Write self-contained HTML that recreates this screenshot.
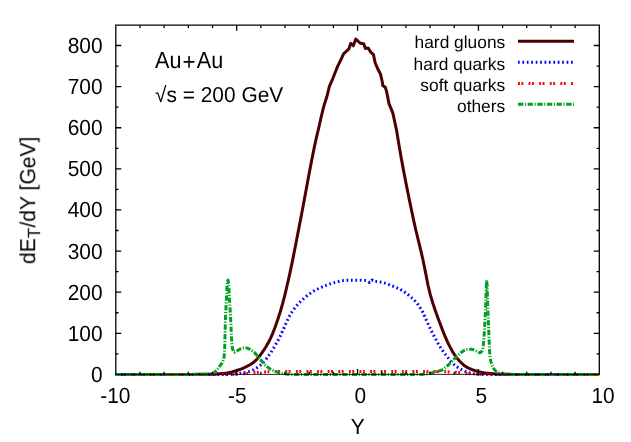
<!DOCTYPE html>
<html><head><meta charset="utf-8"><title>dET/dY vs Y</title><style>
html,body{margin:0;padding:0;background:#fff;}
svg{display:block;font-family:"Liberation Sans",sans-serif;}
</style></head><body>
<svg width="631" height="442" viewBox="0 0 631 442">
<rect width="631" height="442" fill="#fff"/>
<g fill="#000" opacity="0.999" text-rendering="geometricPrecision"><text transform="translate(102.60,381.90) scale(1,1.050)" font-size="20.90" text-anchor="end">0</text><text transform="translate(102.60,340.79) scale(1,1.050)" font-size="20.90" text-anchor="end">100</text><text transform="translate(102.60,299.68) scale(1,1.050)" font-size="20.90" text-anchor="end">200</text><text transform="translate(102.60,258.57) scale(1,1.050)" font-size="20.90" text-anchor="end">300</text><text transform="translate(102.60,217.46) scale(1,1.050)" font-size="20.90" text-anchor="end">400</text><text transform="translate(102.60,176.35) scale(1,1.050)" font-size="20.90" text-anchor="end">500</text><text transform="translate(102.60,135.24) scale(1,1.050)" font-size="20.90" text-anchor="end">600</text><text transform="translate(102.60,94.13) scale(1,1.050)" font-size="20.90" text-anchor="end">700</text><text transform="translate(102.60,53.02) scale(1,1.050)" font-size="20.90" text-anchor="end">800</text><text transform="translate(115.30,402.70) scale(1,1.050)" font-size="20.90" text-anchor="middle">-10</text><text transform="translate(237.20,402.70) scale(1,1.050)" font-size="20.90" text-anchor="middle">-5</text><text transform="translate(360.20,402.70) scale(1,1.050)" font-size="20.90" text-anchor="middle">0</text><text transform="translate(481.30,402.70) scale(1,1.050)" font-size="20.90" text-anchor="middle">5</text><text transform="translate(603.00,402.70) scale(1,1.050)" font-size="20.90" text-anchor="middle">10</text><text transform="translate(357.60,433.90) scale(1,1.050)" font-size="20.90" text-anchor="middle">Y</text><text transform="translate(34.7,200.3) rotate(-90) scale(1,1.030)" font-size="21.10" text-anchor="middle">dE<tspan font-size="17.3" dy="5">T</tspan><tspan dy="-5">/dY [GeV]</tspan></text><text transform="translate(155.00,67.70) scale(1,1.080)" font-size="21.60" text-anchor="start">Au<tspan dx="1.2" dy="2.3" font-size="22.5">+</tspan><tspan dx="1.0" dy="-2.3">Au</tspan></text><text transform="translate(155.00,101.80) scale(1,1.030)" font-size="20.90" text-anchor="start">√s = 200 GeV</text><text transform="translate(505.20,48.40) scale(1,1.000)" font-size="17.35" text-anchor="end">hard gluons</text><text transform="translate(505.20,69.50) scale(1,1.000)" font-size="17.35" text-anchor="end">hard quarks</text><text transform="translate(505.20,90.60) scale(1,1.000)" font-size="17.35" text-anchor="end">soft quarks</text><text transform="translate(505.20,111.70) scale(1,1.000)" font-size="17.35" text-anchor="end">others</text></g>
<g fill="none" stroke-linejoin="round">
<path d="M115.80,374.40 L118.22,374.40 L120.63,374.40 L123.05,374.40 L125.47,374.40 L127.89,374.40 L130.30,374.40 L132.72,374.40 L135.14,374.40 L137.56,374.40 L139.97,374.40 L142.39,374.40 L144.81,374.40 L147.23,374.40 L149.64,374.40 L152.06,374.40 L154.48,374.40 L156.90,374.40 L159.31,374.40 L161.73,374.40 L164.15,374.40 L166.57,374.40 L168.98,374.40 L171.40,374.40 L173.82,374.40 L176.24,374.40 L178.65,374.40 L181.07,374.40 L183.49,374.40 L185.91,374.40 L188.32,374.40 L190.74,374.40 L193.16,374.39 L195.58,374.37 L197.99,374.35 L200.41,374.33 L202.83,374.30 L205.25,374.27 L207.66,374.24 L210.08,374.18 L212.50,374.09 L214.92,373.97 L217.33,373.82 L219.75,373.64 L222.17,373.44 L224.59,373.21 L227.00,372.90 L229.42,372.44 L231.84,371.85 L234.26,371.20 L236.67,370.51 L239.09,369.73 L241.51,368.84 L243.93,367.83 L246.34,366.71 L248.76,365.45 L251.18,363.99 L253.60,362.29 L256.01,360.18 L258.43,357.46 L260.85,354.32 L263.27,350.95 L265.68,347.26 L268.10,343.10 L270.52,338.40 L272.94,332.80 L275.35,326.41 L277.77,319.53 L280.19,312.01 L282.61,303.69 L285.02,294.29 L287.44,284.03 L289.86,273.38 L292.28,261.91 L294.69,249.78 L297.11,237.31 L299.53,224.78 L301.95,212.27 L304.36,199.37 L306.78,186.28 L309.20,173.28 L311.62,160.61 L314.03,148.54 L316.45,137.33 L316.80,135.80 L318.70,128.20 L321.20,116.80 L323.70,106.60 L326.90,96.50 L329.40,86.30 L332.70,78.80 L335.50,71.80 L337.70,66.10 L340.90,59.80 L343.50,53.80 L346.00,51.60 L348.90,48.80 L350.80,43.30 L353.30,45.80 L355.80,39.10 L358.00,41.20 L360.60,43.30 L363.70,43.70 L365.40,48.40 L368.20,48.00 L370.70,52.20 L373.50,54.70 L375.20,63.00 L377.70,68.70 L380.60,74.40 L382.30,82.00 L382.90,85.80 L385.20,87.10 L386.60,91.50 L389.00,103.60 L392.80,112.90 L396.60,130.50 L399.02,145.32 L401.44,159.13 L403.85,172.11 L406.27,184.59 L408.69,196.64 L411.11,208.32 L413.52,219.71 L415.94,230.46 L418.36,240.50 L420.78,250.46 L423.19,260.96 L425.61,272.86 L428.03,285.24 L430.44,295.12 L432.86,303.25 L435.28,310.48 L437.70,317.18 L440.12,323.69 L442.53,330.14 L444.95,336.22 L447.37,341.65 L449.79,346.64 L452.20,351.07 L454.62,354.84 L457.04,358.17 L459.46,361.00 L461.87,363.42 L464.29,365.52 L466.71,367.13 L469.13,368.35 L471.54,369.37 L473.96,370.22 L476.38,370.94 L478.80,371.60 L481.21,372.18 L483.63,372.68 L486.05,373.06 L488.47,373.34 L490.88,373.58 L493.30,373.78 L495.72,373.95 L498.14,374.08 L500.55,374.16 L502.97,374.23 L505.39,374.29 L507.81,374.33 L510.22,374.37 L512.64,374.39 L515.06,374.40 L517.48,374.40 L519.89,374.40 L522.31,374.40 L524.73,374.40 L527.15,374.40 L529.56,374.40 L531.98,374.40 L534.40,374.40 L536.82,374.40 L539.23,374.40 L541.65,374.40 L544.07,374.40 L546.49,374.40 L548.90,374.40 L551.32,374.40 L553.74,374.40 L556.16,374.40 L558.57,374.40 L560.99,374.40 L563.41,374.40 L565.83,374.40 L568.24,374.40 L570.66,374.40 L573.08,374.40 L575.50,374.40 L577.91,374.40 L580.33,374.40 L582.75,374.40 L585.17,374.40 L587.58,374.40 L590.00,374.40 L592.42,374.40 L594.84,374.40 L597.25,374.40" stroke="#4d0000" stroke-width="3.0"/>
<path d="M518,41.3 H574" stroke="#4d0000" stroke-width="3.0"/>
<path d="M115.80,374.40 L118.22,374.40 L120.63,374.40 L123.05,374.40 L125.47,374.40 L127.89,374.40 L130.30,374.40 L132.72,374.40 L135.14,374.40 L137.56,374.40 L139.97,374.40 L142.39,374.40 L144.81,374.40 L147.23,374.40 L149.64,374.40 L152.06,374.40 L154.48,374.40 L156.90,374.40 L159.31,374.40 L161.73,374.40 L164.15,374.40 L166.57,374.40 L168.98,374.40 L171.40,374.40 L173.82,374.40 L176.24,374.40 L178.65,374.40 L181.07,374.40 L183.49,374.40 L185.91,374.40 L188.32,374.40 L190.74,374.40 L193.16,374.40 L195.58,374.40 L197.99,374.40 L200.41,374.40 L202.83,374.40 L205.25,374.40 L207.66,374.40 L210.08,374.40 L212.50,374.40 L214.92,374.40 L217.33,374.40 L219.75,374.40 L222.17,374.40 L224.59,374.40 L227.00,374.40 L229.42,374.40 L231.84,374.32 L234.26,374.10 L236.67,373.82 L239.09,373.52 L241.51,373.18 L243.93,372.75 L246.34,372.24 L248.76,371.62 L251.18,370.76 L253.60,369.69 L256.01,368.42 L258.43,366.82 L260.85,364.91 L263.27,362.55 L265.68,359.64 L268.10,356.46 L270.52,352.98 L272.94,349.16 L275.35,345.11 L277.77,340.78 L280.19,336.08 L282.61,330.88 L285.02,325.63 L287.44,320.30 L289.86,315.31 L292.28,311.41 L294.69,308.07 L297.11,305.13 L299.53,302.49 L301.95,300.13 L304.36,297.98 L306.78,295.99 L309.20,294.12 L311.62,292.40 L314.03,290.88 L316.45,289.57 L318.87,288.38 L321.29,287.30 L323.70,286.30 L326.12,285.35 L328.54,284.42 L330.96,283.57 L333.37,282.83 L335.79,282.22 L338.21,281.62 L340.63,281.06 L343.04,280.61 L345.46,280.32 L347.88,280.26 L350.30,280.26 L352.71,280.26 L355.13,280.26 L357.55,280.26 L359.97,280.26 L362.38,280.32 L364.80,280.46 L367.22,280.87 L369.64,282.52 L372.05,280.05 L374.47,281.70 L376.89,281.49 L379.31,281.76 L381.72,282.24 L384.14,282.92 L386.56,283.75 L388.98,284.67 L391.39,285.59 L393.81,286.51 L396.23,287.51 L398.65,288.60 L401.06,289.85 L403.48,291.31 L405.90,293.00 L408.32,294.87 L410.73,296.89 L413.15,299.10 L415.57,301.61 L417.99,304.55 L420.40,308.13 L422.82,312.35 L425.24,317.48 L427.66,323.16 L430.07,328.21 L432.49,333.01 L434.91,337.66 L437.33,342.21 L439.74,346.39 L442.16,350.04 L444.58,353.35 L447.00,356.47 L449.41,359.54 L451.83,362.40 L454.25,364.74 L456.67,366.63 L459.08,368.24 L461.50,369.59 L463.92,370.76 L466.34,371.77 L468.75,372.58 L471.17,373.22 L473.59,373.78 L476.01,374.14 L478.42,374.28 L480.84,374.37 L483.26,374.40 L485.68,374.40 L488.09,374.40 L490.51,374.40 L492.93,374.40 L495.35,374.40 L497.76,374.40 L500.18,374.40 L502.60,374.40 L505.02,374.40 L507.43,374.40 L509.85,374.40 L512.27,374.40 L514.69,374.40 L517.10,374.40 L519.52,374.40 L521.94,374.40 L524.36,374.40 L526.77,374.40 L529.19,374.40 L531.61,374.40 L534.03,374.40 L536.44,374.40 L538.86,374.40 L541.28,374.40 L543.70,374.40 L546.11,374.40 L548.53,374.40 L550.95,374.40 L553.37,374.40 L555.78,374.40 L558.20,374.40 L560.62,374.40 L563.04,374.40 L565.45,374.40 L567.87,374.40 L570.29,374.40 L572.71,374.40 L575.12,374.40 L577.54,374.40 L579.96,374.40 L582.38,374.40 L584.79,374.40 L587.21,374.40 L589.63,374.40 L592.05,374.40 L594.46,374.40 L596.88,374.40 L599.30,374.40" stroke="#0000ff" stroke-width="3.0" stroke-dasharray="1.7 2.72"/>
<path d="M518,62.3 H574" stroke="#0000ff" stroke-width="3.0" stroke-dasharray="1.7 2.72"/>
<path d="M115.80,374.40 L118.22,374.40 L120.63,374.40 L123.05,374.40 L125.47,374.40 L127.89,374.40 L130.30,374.40 L132.72,374.40 L135.14,374.40 L137.56,374.40 L139.97,374.40 L142.39,374.40 L144.81,374.40 L147.23,374.40 L149.64,374.40 L152.06,374.40 L154.48,374.40 L156.90,374.40 L159.31,374.40 L161.73,374.40 L164.15,374.40 L166.57,374.40 L168.98,374.40 L171.40,374.40 L173.82,374.40 L176.24,374.40 L178.65,374.40 L181.07,374.40 L183.49,374.40 L185.91,374.40 L188.32,374.40 L190.74,374.40 L193.16,374.40 L195.58,374.40 L197.99,374.40 L200.41,374.40 L202.83,374.40 L205.25,374.40 L207.66,374.40 L210.08,374.40 L212.50,374.40 L214.92,374.40 L217.33,374.40 L219.75,374.40 L222.17,374.40 L224.59,374.40 L227.00,374.40 L229.42,374.40 L231.84,374.40 L234.26,374.36 L236.67,374.27 L239.09,374.12 L241.51,373.95 L243.93,373.76 L246.34,373.58 L248.76,373.36 L251.18,373.09 L253.60,372.81 L256.01,372.55 L258.43,372.34 L260.85,372.18 L263.27,372.02 L265.68,371.88 L268.10,371.74 L270.52,371.64 L272.94,371.56 L275.35,371.52 L277.77,371.50 L280.19,371.49 L282.61,371.47 L285.02,371.46 L287.44,371.45 L289.86,371.44 L292.28,371.43 L294.69,371.42 L297.11,371.41 L299.53,371.41 L301.95,371.40 L304.36,371.40 L306.78,371.40 L309.20,371.40 L311.62,371.40 L314.03,371.40 L316.45,371.40 L318.87,371.40 L321.29,371.40 L323.70,371.40 L326.12,371.40 L328.54,371.40 L330.96,371.40 L333.37,371.40 L335.79,371.40 L338.21,371.40 L340.63,371.40 L343.04,371.40 L345.46,371.40 L347.88,371.40 L350.30,371.40 L352.71,371.40 L355.13,371.40 L357.55,371.40 L359.97,371.40 L362.38,371.40 L364.80,371.40 L367.22,371.40 L369.64,371.40 L372.05,371.40 L374.47,371.40 L376.89,371.40 L379.31,371.40 L381.72,371.40 L384.14,371.40 L386.56,371.40 L388.98,371.40 L391.39,371.40 L393.81,371.40 L396.23,371.40 L398.65,371.40 L401.06,371.40 L403.48,371.40 L405.90,371.40 L408.32,371.40 L410.73,371.40 L413.15,371.40 L415.57,371.41 L417.99,371.41 L420.40,371.42 L422.82,371.43 L425.24,371.44 L427.66,371.45 L430.07,371.46 L432.49,371.47 L434.91,371.49 L437.33,371.50 L439.74,371.52 L442.16,371.56 L444.58,371.64 L447.00,371.74 L449.41,371.88 L451.83,372.02 L454.25,372.18 L456.67,372.34 L459.08,372.55 L461.50,372.81 L463.92,373.09 L466.34,373.36 L468.75,373.58 L471.17,373.76 L473.59,373.95 L476.01,374.12 L478.42,374.27 L480.84,374.36 L483.26,374.40 L485.68,374.40 L488.09,374.40 L490.51,374.40 L492.93,374.40 L495.35,374.40 L497.76,374.40 L500.18,374.40 L502.60,374.40 L505.02,374.40 L507.43,374.40 L509.85,374.40 L512.27,374.40 L514.69,374.40 L517.10,374.40 L519.52,374.40 L521.94,374.40 L524.36,374.40 L526.77,374.40 L529.19,374.40 L531.61,374.40 L534.03,374.40 L536.44,374.40 L538.86,374.40 L541.28,374.40 L543.70,374.40 L546.11,374.40 L548.53,374.40 L550.95,374.40 L553.37,374.40 L555.78,374.40 L558.20,374.40 L560.62,374.40 L563.04,374.40 L565.45,374.40 L567.87,374.40 L570.29,374.40 L572.71,374.40 L575.12,374.40 L577.54,374.40 L579.96,374.40 L582.38,374.40 L584.79,374.40 L587.21,374.40 L589.63,374.40 L592.05,374.40 L594.46,374.40 L596.88,374.40 L599.30,374.40" stroke="#ff0000" stroke-width="3.0" stroke-dasharray="1.9 1.5 1.9 5.3"/>
<path d="M518,83.4 H574" stroke="#ff0000" stroke-width="3.0" stroke-dasharray="1.9 1.5 1.9 5.3"/>
<path d="M115.80,374.40 L116.28,374.40 L116.77,374.40 L117.25,374.40 L117.73,374.40 L118.22,374.40 L118.70,374.40 L119.18,374.40 L119.67,374.40 L120.15,374.40 L120.63,374.40 L121.12,374.40 L121.60,374.40 L122.09,374.40 L122.57,374.40 L123.05,374.40 L123.54,374.40 L124.02,374.40 L124.50,374.40 L124.99,374.40 L125.47,374.40 L125.95,374.40 L126.44,374.40 L126.92,374.40 L127.40,374.40 L127.89,374.40 L128.37,374.40 L128.85,374.40 L129.34,374.40 L129.82,374.40 L130.30,374.40 L130.79,374.40 L131.27,374.40 L131.76,374.40 L132.24,374.40 L132.72,374.40 L133.21,374.40 L133.69,374.40 L134.17,374.40 L134.66,374.40 L135.14,374.40 L135.62,374.40 L136.11,374.40 L136.59,374.40 L137.07,374.40 L137.56,374.40 L138.04,374.40 L138.52,374.40 L139.01,374.40 L139.49,374.40 L139.97,374.40 L140.46,374.40 L140.94,374.40 L141.43,374.40 L141.91,374.40 L142.39,374.40 L142.88,374.40 L143.36,374.40 L143.84,374.40 L144.33,374.40 L144.81,374.40 L145.29,374.40 L145.78,374.40 L146.26,374.40 L146.74,374.40 L147.23,374.40 L147.71,374.40 L148.19,374.40 L148.68,374.40 L149.16,374.40 L149.64,374.40 L150.13,374.40 L150.61,374.40 L151.10,374.40 L151.58,374.40 L152.06,374.40 L152.55,374.40 L153.03,374.40 L153.51,374.40 L154.00,374.40 L154.48,374.40 L154.96,374.40 L155.45,374.40 L155.93,374.40 L156.41,374.40 L156.90,374.40 L157.38,374.40 L157.86,374.40 L158.35,374.40 L158.83,374.40 L159.31,374.40 L159.80,374.40 L160.28,374.40 L160.77,374.40 L161.25,374.40 L161.73,374.40 L162.22,374.40 L162.70,374.40 L163.18,374.40 L163.67,374.40 L164.15,374.40 L164.63,374.40 L165.12,374.40 L165.60,374.40 L166.08,374.40 L166.57,374.40 L167.05,374.40 L167.53,374.40 L168.02,374.40 L168.50,374.40 L168.98,374.40 L169.47,374.40 L169.95,374.40 L170.44,374.40 L170.92,374.40 L171.40,374.40 L171.89,374.40 L172.37,374.40 L172.85,374.40 L173.34,374.40 L173.82,374.40 L174.30,374.40 L174.79,374.40 L175.27,374.40 L175.75,374.40 L176.24,374.40 L176.72,374.40 L177.20,374.40 L177.69,374.40 L178.17,374.40 L178.65,374.40 L179.14,374.40 L179.62,374.40 L180.11,374.40 L180.59,374.40 L181.07,374.40 L181.56,374.40 L182.04,374.40 L182.52,374.40 L183.01,374.40 L183.49,374.40 L183.97,374.40 L184.46,374.40 L184.94,374.40 L185.42,374.40 L185.91,374.40 L186.39,374.40 L186.87,374.40 L187.36,374.40 L187.84,374.40 L188.32,374.40 L188.81,374.40 L189.29,374.40 L189.78,374.40 L190.26,374.40 L190.74,374.40 L191.23,374.40 L191.71,374.40 L192.19,374.40 L192.68,374.40 L193.16,374.40 L193.64,374.39 L194.13,374.39 L194.61,374.39 L195.09,374.39 L195.58,374.39 L196.06,374.38 L196.54,374.38 L197.03,374.38 L197.51,374.38 L197.99,374.37 L198.48,374.37 L198.96,374.37 L199.45,374.36 L199.93,374.36 L200.41,374.35 L200.90,374.35 L201.38,374.34 L201.86,374.34 L202.35,374.33 L202.83,374.33 L203.31,374.32 L203.80,374.32 L204.28,374.31 L204.76,374.30 L205.25,374.30 L205.73,374.28 L206.21,374.26 L206.70,374.23 L207.18,374.20 L207.66,374.16 L208.15,374.11 L208.63,374.06 L209.12,374.00 L209.60,373.93 L210.08,373.86 L210.57,373.78 L211.05,373.70 L211.53,373.60 L212.02,373.50 L212.50,373.40 L212.98,373.25 L213.47,373.01 L213.95,372.69 L214.43,372.32 L214.92,371.91 L215.40,371.46 L215.88,371.00 L216.37,370.53 L216.85,370.04 L217.33,369.48 L217.82,368.86 L218.30,368.19 L218.79,367.50 L219.27,366.80 L219.75,366.11 L220.24,365.44 L220.72,364.81 L221.20,364.17 L221.69,363.46 L222.17,362.64 L222.65,361.66 L223.14,360.40 L223.62,358.80 L224.10,356.82 L224.59,350.85 L225.07,333.07 L225.55,315.88 L226.04,306.53 L226.52,297.37 L227.00,285.97 L227.49,281.05 L227.97,280.04 L228.46,281.77 L228.94,288.23 L229.42,298.58 L229.91,306.61 L230.39,314.30 L230.87,323.33 L231.36,334.10 L231.84,344.01 L232.32,347.83 L232.81,349.82 L233.29,351.09 L233.77,352.00 L234.26,352.30 L234.74,352.21 L235.22,352.01 L235.71,351.75 L236.19,351.47 L236.67,351.21 L237.16,350.92 L237.64,350.60 L238.13,350.26 L238.61,349.93 L239.09,349.62 L239.58,349.35 L240.06,349.13 L240.54,348.93 L241.03,348.73 L241.51,348.53 L241.99,348.34 L242.48,348.17 L242.96,348.01 L243.44,347.88 L243.93,347.79 L244.41,347.72 L244.89,347.70 L245.38,347.72 L245.86,347.79 L246.34,347.90 L246.83,348.03 L247.31,348.18 L247.80,348.33 L248.28,348.50 L248.76,348.72 L249.25,348.99 L249.73,349.30 L250.21,349.62 L250.70,349.94 L251.18,350.25 L251.66,350.55 L252.15,350.86 L252.63,351.17 L253.11,351.50 L253.60,351.85 L254.08,352.23 L254.56,352.65 L255.05,353.14 L255.53,353.70 L256.01,354.30 L256.50,354.91 L256.98,355.52 L257.47,356.09 L257.95,356.66 L258.43,357.22 L258.92,357.79 L259.40,358.35 L259.88,358.92 L260.37,359.49 L260.85,360.07 L261.33,360.67 L261.82,361.29 L262.30,361.93 L262.78,362.56 L263.27,363.14 L263.75,363.66 L264.23,364.15 L264.72,364.62 L265.20,365.07 L265.68,365.51 L266.17,365.92 L266.65,366.32 L267.14,366.71 L267.62,367.09 L268.10,367.45 L268.59,367.81 L269.07,368.16 L269.55,368.51 L270.04,368.84 L270.52,369.15 L271.00,369.45 L271.49,369.73 L271.97,369.99 L272.45,370.22 L272.94,370.45 L273.42,370.67 L273.90,370.87 L274.39,371.07 L274.87,371.26 L275.35,371.44 L275.84,371.61 L276.32,371.78 L276.81,371.94 L277.29,372.09 L277.77,372.25 L278.26,372.40 L278.74,372.56 L279.22,372.70 L279.71,372.85 L280.19,372.99 L280.67,373.12 L281.16,373.24 L281.64,373.35 L282.12,373.45 L282.61,373.54 L283.09,373.61 L283.57,373.68 L284.06,373.75 L284.54,373.82 L285.02,373.89 L285.51,373.95 L285.99,374.01 L286.48,374.07 L286.96,374.13 L287.44,374.18 L287.93,374.23 L288.41,374.27 L288.89,374.31 L289.38,374.34 L289.86,374.37 L290.34,374.38 L290.83,374.40 L291.31,374.40 L291.79,374.40 L292.28,374.40 L292.76,374.40 L293.24,374.40 L293.73,374.40 L294.21,374.40 L294.69,374.40 L295.18,374.40 L295.66,374.40 L296.15,374.40 L296.63,374.40 L297.11,374.40 L297.60,374.40 L298.08,374.40 L298.56,374.40 L299.05,374.40 L299.53,374.40 L300.01,374.40 L300.50,374.40 L300.98,374.40 L301.46,374.40 L301.95,374.40 L302.43,374.40 L302.91,374.40 L303.40,374.40 L303.88,374.40 L304.36,374.40 L304.85,374.40 L305.33,374.40 L305.82,374.40 L306.30,374.40 L306.78,374.40 L307.27,374.40 L307.75,374.40 L308.23,374.40 L308.72,374.40 L309.20,374.40 L309.68,374.40 L310.17,374.40 L310.65,374.40 L311.13,374.40 L311.62,374.40 L312.10,374.40 L312.58,374.40 L313.07,374.40 L313.55,374.40 L314.03,374.40 L314.52,374.40 L315.00,374.40 L315.49,374.40 L315.97,374.40 L316.45,374.40 L316.94,374.40 L317.42,374.40 L317.90,374.40 L318.39,374.40 L318.87,374.40 L319.35,374.40 L319.84,374.40 L320.32,374.40 L320.80,374.40 L321.29,374.40 L321.77,374.40 L322.25,374.40 L322.74,374.40 L323.22,374.40 L323.70,374.40 L324.19,374.40 L324.67,374.40 L325.16,374.40 L325.64,374.40 L326.12,374.40 L326.61,374.40 L327.09,374.40 L327.57,374.40 L328.06,374.40 L328.54,374.40 L329.02,374.40 L329.51,374.40 L329.99,374.40 L330.47,374.40 L330.96,374.40 L331.44,374.40 L331.92,374.40 L332.41,374.40 L332.89,374.40 L333.37,374.40 L333.86,374.40 L334.34,374.40 L334.83,374.40 L335.31,374.40 L335.79,374.40 L336.28,374.40 L336.76,374.40 L337.24,374.40 L337.73,374.40 L338.21,374.40 L338.69,374.40 L339.18,374.40 L339.66,374.40 L340.14,374.40 L340.63,374.40 L341.11,374.40 L341.59,374.40 L342.08,374.40 L342.56,374.40 L343.04,374.40 L343.53,374.40 L344.01,374.40 L344.50,374.40 L344.98,374.40 L345.46,374.40 L345.95,374.40 L346.43,374.40 L346.91,374.40 L347.40,374.40 L347.88,374.40 L348.36,374.40 L348.85,374.40 L349.33,374.40 L349.81,374.40 L350.30,374.40 L350.78,374.40 L351.26,374.40 L351.75,374.40 L352.23,374.40 L352.71,374.40 L353.20,374.40 L353.68,374.40 L354.17,374.40 L354.65,374.40 L355.13,374.40 L355.62,374.40 L356.10,374.40 L356.58,374.40 L357.07,374.40 L357.55,374.40 L358.03,374.40 L358.52,374.40 L359.00,374.40 L359.48,374.40 L359.97,374.40 L360.45,374.40 L360.93,374.40 L361.42,374.40 L361.90,374.40 L362.38,374.40 L362.87,374.40 L363.35,374.40 L363.84,374.40 L364.32,374.40 L364.80,374.40 L365.29,374.40 L365.77,374.40 L366.25,374.40 L366.74,374.40 L367.22,374.40 L367.70,374.40 L368.19,374.40 L368.67,374.40 L369.15,374.40 L369.64,374.40 L370.12,374.40 L370.60,374.40 L371.09,374.40 L371.57,374.40 L372.05,374.40 L372.54,374.40 L373.02,374.40 L373.51,374.40 L373.99,374.40 L374.47,374.40 L374.96,374.40 L375.44,374.40 L375.92,374.40 L376.41,374.40 L376.89,374.40 L377.37,374.40 L377.86,374.40 L378.34,374.40 L378.82,374.40 L379.31,374.40 L379.79,374.40 L380.27,374.40 L380.76,374.40 L381.24,374.40 L381.72,374.40 L382.21,374.40 L382.69,374.40 L383.18,374.40 L383.66,374.40 L384.14,374.40 L384.63,374.40 L385.11,374.40 L385.59,374.40 L386.08,374.40 L386.56,374.40 L387.04,374.40 L387.53,374.40 L388.01,374.40 L388.49,374.40 L388.98,374.40 L389.46,374.40 L389.94,374.40 L390.43,374.40 L390.91,374.40 L391.39,374.40 L391.88,374.40 L392.36,374.40 L392.85,374.40 L393.33,374.40 L393.81,374.40 L394.30,374.40 L394.78,374.40 L395.26,374.40 L395.75,374.40 L396.23,374.40 L396.71,374.40 L397.20,374.40 L397.68,374.40 L398.16,374.40 L398.65,374.40 L399.13,374.40 L399.61,374.40 L400.10,374.40 L400.58,374.40 L401.06,374.40 L401.55,374.40 L402.03,374.40 L402.52,374.40 L403.00,374.40 L403.48,374.40 L403.97,374.40 L404.45,374.40 L404.93,374.40 L405.42,374.40 L405.90,374.40 L406.38,374.40 L406.87,374.40 L407.35,374.40 L407.83,374.40 L408.32,374.40 L408.80,374.40 L409.28,374.40 L409.77,374.40 L410.25,374.40 L410.73,374.40 L411.22,374.40 L411.70,374.40 L412.19,374.40 L412.67,374.40 L413.15,374.40 L413.64,374.40 L414.12,374.40 L414.60,374.40 L415.09,374.40 L415.57,374.40 L416.05,374.40 L416.54,374.40 L417.02,374.40 L417.50,374.40 L417.99,374.40 L418.47,374.40 L418.95,374.40 L419.44,374.40 L419.92,374.40 L420.40,374.40 L420.89,374.40 L421.37,374.40 L421.86,374.38 L422.34,374.36 L422.82,374.33 L423.31,374.29 L423.79,374.25 L424.27,374.20 L424.76,374.14 L425.24,374.08 L425.72,374.02 L426.21,373.95 L426.69,373.89 L427.17,373.82 L427.66,373.75 L428.14,373.68 L428.62,373.60 L429.11,373.51 L429.59,373.42 L430.07,373.31 L430.56,373.20 L431.04,373.08 L431.53,372.96 L432.01,372.83 L432.49,372.70 L432.98,372.56 L433.46,372.43 L433.94,372.29 L434.43,372.16 L434.91,372.02 L435.39,371.90 L435.88,371.77 L436.36,371.65 L436.84,371.53 L437.33,371.40 L437.81,371.28 L438.29,371.15 L438.78,371.02 L439.26,370.89 L439.74,370.74 L440.23,370.59 L440.71,370.42 L441.20,370.25 L441.68,370.06 L442.16,369.85 L442.65,369.63 L443.13,369.35 L443.61,369.02 L444.10,368.64 L444.58,368.23 L445.06,367.81 L445.55,367.39 L446.03,366.97 L446.51,366.57 L447.00,366.15 L447.48,365.73 L447.96,365.30 L448.45,364.86 L448.93,364.41 L449.41,363.96 L449.90,363.50 L450.38,363.03 L450.87,362.54 L451.35,362.04 L451.83,361.54 L452.32,361.03 L452.80,360.52 L453.28,360.02 L453.77,359.53 L454.25,359.04 L454.73,358.55 L455.22,358.06 L455.70,357.57 L456.18,357.09 L456.67,356.61 L457.15,356.14 L457.63,355.67 L458.12,355.20 L458.60,354.73 L459.08,354.26 L459.57,353.81 L460.05,353.37 L460.54,352.96 L461.02,352.59 L461.50,352.23 L461.99,351.88 L462.47,351.55 L462.95,351.23 L463.44,350.93 L463.92,350.66 L464.40,350.41 L464.89,350.21 L465.37,350.02 L465.85,349.83 L466.34,349.66 L466.82,349.51 L467.30,349.39 L467.79,349.32 L468.27,349.28 L468.75,349.26 L469.24,349.24 L469.72,349.22 L470.21,349.21 L470.69,349.20 L471.17,349.20 L471.66,349.24 L472.14,349.35 L472.62,349.49 L473.11,349.68 L473.59,349.88 L474.07,350.10 L474.56,350.31 L475.04,350.52 L475.52,350.73 L476.01,350.98 L476.49,351.24 L476.97,351.50 L477.46,351.75 L477.94,351.98 L478.42,352.20 L478.91,352.43 L479.39,352.62 L479.88,352.70 L480.36,352.60 L480.84,352.30 L481.33,351.88 L481.81,351.34 L482.29,350.43 L482.78,348.97 L483.26,345.90 L483.74,340.49 L484.23,333.46 L484.71,325.37 L485.19,316.23 L485.68,305.42 L486.16,291.13 L486.64,280.16 L487.13,285.62 L487.61,300.86 L488.09,315.06 L488.58,326.84 L489.06,339.15 L489.55,350.50 L490.03,356.73 L490.51,359.69 L491.00,361.83 L491.48,363.63 L491.96,365.08 L492.45,366.22 L492.93,367.20 L493.41,368.08 L493.90,368.85 L494.38,369.51 L494.86,370.06 L495.35,370.53 L495.83,370.96 L496.31,371.35 L496.80,371.70 L497.28,372.01 L497.76,372.28 L498.25,372.50 L498.73,372.69 L499.22,372.86 L499.70,373.02 L500.18,373.18 L500.67,373.32 L501.15,373.46 L501.63,373.58 L502.12,373.69 L502.60,373.80 L503.08,373.89 L503.57,373.96 L504.05,374.03 L504.53,374.08 L505.02,374.12 L505.50,374.15 L505.98,374.18 L506.47,374.21 L506.95,374.24 L507.43,374.27 L507.92,374.29 L508.40,374.31 L508.89,374.34 L509.37,374.35 L509.85,374.37 L510.34,374.38 L510.82,374.39 L511.30,374.40 L511.79,374.40 L512.27,374.40 L512.75,374.40 L513.24,374.40 L513.72,374.40 L514.20,374.40 L514.69,374.40 L515.17,374.40 L515.65,374.40 L516.14,374.40 L516.62,374.40 L517.10,374.40 L517.59,374.40 L518.07,374.40 L518.56,374.40 L519.04,374.40 L519.52,374.40 L520.01,374.40 L520.49,374.40 L520.97,374.40 L521.46,374.40 L521.94,374.40 L522.42,374.40 L522.91,374.40 L523.39,374.40 L523.87,374.40 L524.36,374.40 L524.84,374.40 L525.32,374.40 L525.81,374.40 L526.29,374.40 L526.77,374.40 L527.26,374.40 L527.74,374.40 L528.23,374.40 L528.71,374.40 L529.19,374.40 L529.68,374.40 L530.16,374.40 L530.64,374.40 L531.13,374.40 L531.61,374.40 L532.09,374.40 L532.58,374.40 L533.06,374.40 L533.54,374.40 L534.03,374.40 L534.51,374.40 L534.99,374.40 L535.48,374.40 L535.96,374.40 L536.44,374.40 L536.93,374.40 L537.41,374.40 L537.90,374.40 L538.38,374.40 L538.86,374.40 L539.35,374.40 L539.83,374.40 L540.31,374.40 L540.80,374.40 L541.28,374.40 L541.76,374.40 L542.25,374.40 L542.73,374.40 L543.21,374.40 L543.70,374.40 L544.18,374.40 L544.66,374.40 L545.15,374.40 L545.63,374.40 L546.11,374.40 L546.60,374.40 L547.08,374.40 L547.57,374.40 L548.05,374.40 L548.53,374.40 L549.02,374.40 L549.50,374.40 L549.98,374.40 L550.47,374.40 L550.95,374.40 L551.43,374.40 L551.92,374.40 L552.40,374.40 L552.88,374.40 L553.37,374.40 L553.85,374.40 L554.33,374.40 L554.82,374.40 L555.30,374.40 L555.78,374.40 L556.27,374.40 L556.75,374.40 L557.24,374.40 L557.72,374.40 L558.20,374.40 L558.69,374.40 L559.17,374.40 L559.65,374.40 L560.14,374.40 L560.62,374.40 L561.10,374.40 L561.59,374.40 L562.07,374.40 L562.55,374.40 L563.04,374.40 L563.52,374.40 L564.00,374.40 L564.49,374.40 L564.97,374.40 L565.45,374.40 L565.94,374.40 L566.42,374.40 L566.91,374.40 L567.39,374.40 L567.87,374.40 L568.36,374.40 L568.84,374.40 L569.32,374.40 L569.81,374.40 L570.29,374.40 L570.77,374.40 L571.26,374.40 L571.74,374.40 L572.22,374.40 L572.71,374.40 L573.19,374.40 L573.67,374.40 L574.16,374.40 L574.64,374.40 L575.12,374.40 L575.61,374.40 L576.09,374.40 L576.58,374.40 L577.06,374.40 L577.54,374.40 L578.03,374.40 L578.51,374.40 L578.99,374.40 L579.48,374.40 L579.96,374.40 L580.44,374.40 L580.93,374.40 L581.41,374.40 L581.89,374.40 L582.38,374.40 L582.86,374.40 L583.34,374.40 L583.83,374.40 L584.31,374.40 L584.79,374.40 L585.28,374.40 L585.76,374.40 L586.25,374.40 L586.73,374.40 L587.21,374.40 L587.70,374.40 L588.18,374.40 L588.66,374.40 L589.15,374.40 L589.63,374.40 L590.11,374.40 L590.60,374.40 L591.08,374.40 L591.56,374.40 L592.05,374.40 L592.53,374.40 L593.01,374.40 L593.50,374.40 L593.98,374.40 L594.46,374.40 L594.95,374.40 L595.43,374.40 L595.92,374.40 L596.40,374.40 L596.88,374.40 L597.37,374.40 L597.85,374.40 L598.33,374.40 L598.82,374.40 L599.30,374.40" stroke="#00a020" stroke-width="3.0" stroke-dasharray="5.3 1.6 1.15 1.6"/>
<path d="M518,104.3 H574" stroke="#00a020" stroke-width="3.0" stroke-dasharray="5.3 1.6 1.15 1.6"/>
</g>
<g fill="none" stroke="#000" stroke-width="1.3">
<path d="M139.97,374.40 v-2.75 M139.97,25.20 v2.75 M164.15,374.40 v-2.75 M164.15,25.20 v2.75 M188.32,374.40 v-2.75 M188.32,25.20 v2.75 M212.50,374.40 v-2.75 M212.50,25.20 v2.75 M236.68,374.40 v-5.50 M236.68,25.20 v5.50 M260.85,374.40 v-2.75 M260.85,25.20 v2.75 M285.02,374.40 v-2.75 M285.02,25.20 v2.75 M309.20,374.40 v-2.75 M309.20,25.20 v2.75 M333.38,374.40 v-2.75 M333.38,25.20 v2.75 M357.55,374.40 v-5.50 M357.55,25.20 v5.50 M381.73,374.40 v-2.75 M381.73,25.20 v2.75 M405.90,374.40 v-2.75 M405.90,25.20 v2.75 M430.08,374.40 v-2.75 M430.08,25.20 v2.75 M454.25,374.40 v-2.75 M454.25,25.20 v2.75 M478.43,374.40 v-5.50 M478.43,25.20 v5.50 M502.60,374.40 v-2.75 M502.60,25.20 v2.75 M526.77,374.40 v-2.75 M526.77,25.20 v2.75 M550.95,374.40 v-2.75 M550.95,25.20 v2.75 M575.12,374.40 v-2.75 M575.12,25.20 v2.75 M115.80,353.84 h2.75 M599.30,353.84 h-2.75 M115.80,333.29 h5.50 M599.30,333.29 h-5.50 M115.80,312.73 h2.75 M599.30,312.73 h-2.75 M115.80,292.18 h5.50 M599.30,292.18 h-5.50 M115.80,271.62 h2.75 M599.30,271.62 h-2.75 M115.80,251.07 h5.50 M599.30,251.07 h-5.50 M115.80,230.51 h2.75 M599.30,230.51 h-2.75 M115.80,209.96 h5.50 M599.30,209.96 h-5.50 M115.80,189.40 h2.75 M599.30,189.40 h-2.75 M115.80,168.85 h5.50 M599.30,168.85 h-5.50 M115.80,148.29 h2.75 M599.30,148.29 h-2.75 M115.80,127.74 h5.50 M599.30,127.74 h-5.50 M115.80,107.18 h2.75 M599.30,107.18 h-2.75 M115.80,86.63 h5.50 M599.30,86.63 h-5.50 M115.80,66.07 h2.75 M599.30,66.07 h-2.75 M115.80,45.52 h5.50 M599.30,45.52 h-5.50"/>
<path d="M115.8,375.04999999999995 V25.2 H599.3 V375.04999999999995" stroke-linejoin="miter"/>
<path d="M115.14999999999999,374.4 H599.9499999999999" stroke-width="0.85"/>
</g>
</svg>
</body></html>
